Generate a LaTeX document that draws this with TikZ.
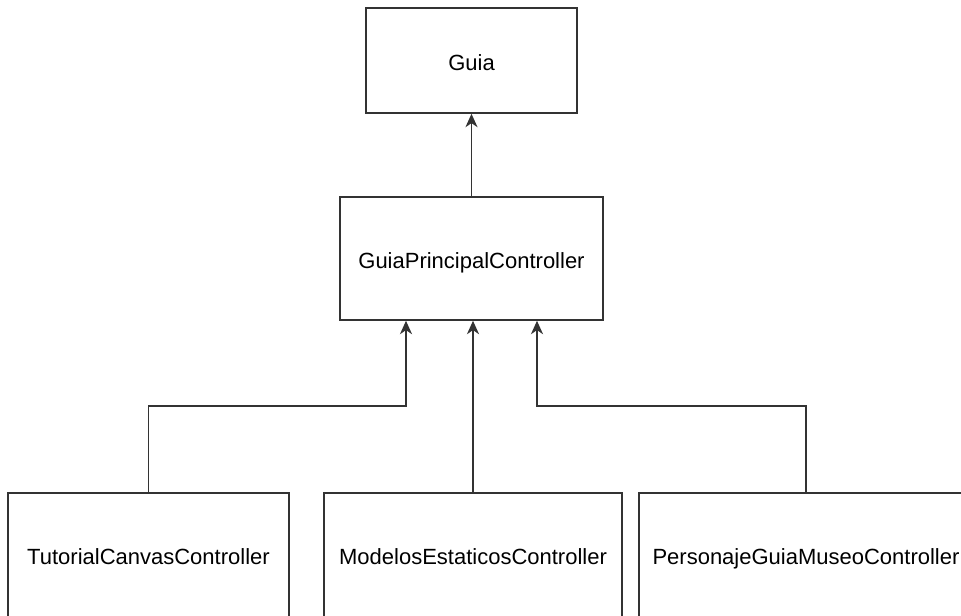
\documentclass[tikz,border=0pt]{standalone}
\usepackage{fontspec}
\setmainfont{Liberation Sans}
\usepackage{tikz}
\usetikzlibrary{arrows.meta,calc}
\definecolor{edge}{RGB}{51,51,51}

\begin{document}
\begin{tikzpicture}[
      x=0.75pt, y=0.75pt, >={Stealth[length=10pt,width=9pt,inset=3pt]},
      font=\fontsize{16.5}{19}\selectfont,
      cls/.style={draw=edge, line width=1.2pt, fill=white, align=center,
                  inner sep=0pt, text height=14.3pt, text depth=0pt},
      link/.style={->, draw=edge, line width=1.2pt},
    ]
    \useasboundingbox (0,0) rectangle (961,-615);
    \clip (0,0) rectangle (961,-615);

    \node[cls, minimum width=158.25pt, minimum height=78.75pt] (guia)
      at (471.5,-60.5) {Guia};
    \node[cls, minimum width=197.25pt, minimum height=92.25pt] (gpc)
      at (471.5,-258.5) {GuiaPrincipalController};

    % controllers that hang off the main one
    \node[cls, minimum width=210.75pt, minimum height=93pt] (tut)
      at (148.5,-555) {TutorialCanvasController};
    \node[cls, minimum width=223.5pt, minimum height=93pt] (mod)
      at (473,-555) {ModelosEstaticosController};
    \node[cls, minimum width=250.5pt, minimum height=93pt] (per)
      at (806,-555) {PersonajeGuiaMuseoController};

    \draw[link] (gpc.north) -- (guia.south);
    \draw[link] (tut.north) -- ++(0,86) -| ($(gpc.south)+(-65.5,0)$);
    \draw[link] (mod.north) -- (mod.north |- gpc.south);
    \draw[link] (per.north) -- ++(0,86) -| ($(gpc.south)+(65.5,0)$);
  \end{tikzpicture}
\end{document}
